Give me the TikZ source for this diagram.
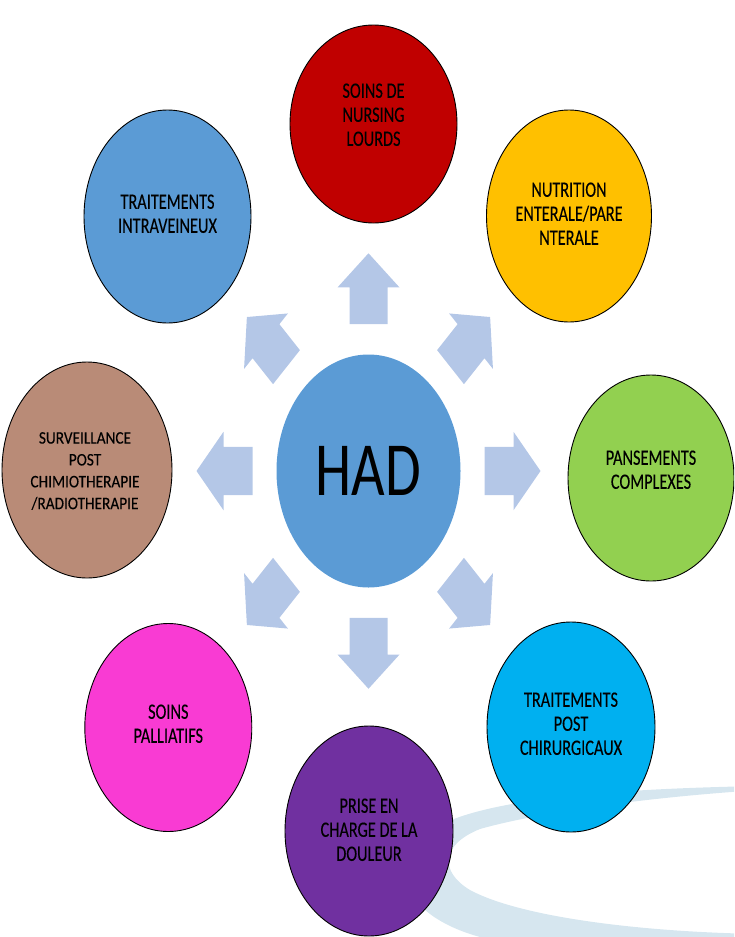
\documentclass[tikz,border=0pt]{standalone}
\usepackage{fontspec}
\setmainfont{Carlito}
\newfontfamily\lblfont{Carlito}[FakeBold=0.2]
\usetikzlibrary{shapes.geometric}
\definecolor{cred}{HTML}{C00000}
\definecolor{corange}{HTML}{FFC000}
\definecolor{cgreen}{HTML}{92D050}
\definecolor{ccyan}{HTML}{00B0F0}
\definecolor{cpurple}{HTML}{7030A0}
\definecolor{cmagenta}{HTML}{F93BD3}
\definecolor{cbrown}{HTML}{B98B77}
\definecolor{cblue}{HTML}{5B9BD5}
\definecolor{carrow}{HTML}{B4C7E7}
\definecolor{cswoosh}{HTML}{D6E6EF}
\newcommand\stxt[2][1.35]{\scalebox{1}[#1]{\begin{tabular}{@{}c@{}}#2\end{tabular}}}
\tikzset{
  bubble/.style={ellipse, draw=black, line width=0.9pt, inner sep=0pt, outer sep=0pt},
  lbl/.style={inner sep=0pt, text=black, font=\lblfont\fontsize{16.3}{17.8}\selectfont},
  smalllbl/.style={inner sep=0pt, text=black, font=\lblfont\fontsize{15.3}{19}\selectfont},
  blockarrow/.style={fill=carrow, draw=none}
}
\begin{document}
\begin{tikzpicture}[x=1pt,y=-1pt]
\useasboundingbox (0,0) rectangle (734,937);
\begin{scope}
\clip (0,0) rectangle (734,937);
% swoosh
\fill[cswoosh] (760,786) .. controls (600,789) and (490,800) .. (440,825)
   .. controls (380,860) and (400,915) .. (480,937)
   .. controls (520,948) and (600,955) .. (760,950) -- (760,934)
   .. controls (640,932) and (520,917) .. (470,890)
   .. controls (440,872) and (440,845) .. (480,829)
   .. controls (540,812) and (650,797) .. (760,790) -- cycle;
% centre
\node[bubble, draw=none, fill=cblue, minimum width=184pt, minimum height=233pt,
      font=\fontsize{58}{60}\selectfont] (had) at (368.5,471) {\scalebox{1}[1.32]{HAD}};
% arrows
\begin{scope}[shift={(had.center)}, yscale=1.266]
\foreach \a in {0,45,...,315}
  \fill[blockarrow, rotate=\a] (116,-19) -- (145,-19) -- (145,-31) -- (172,0)
        -- (145,31) -- (145,19) -- (116,19) -- cycle;
\end{scope}
% outer bubbles
\node[bubble, fill=cred,     minimum width=167pt, minimum height=198pt] (nurs) at (373.5,124) {};
\node[bubble, fill=corange,  minimum width=165pt, minimum height=212pt] (nutr) at (569,216) {};
\node[bubble, fill=cgreen,   minimum width=166pt, minimum height=206pt] (pans) at (651,478) {};
\node[bubble, fill=ccyan,    minimum width=168pt, minimum height=210pt] (chir) at (571,727) {};
\node[bubble, fill=cpurple,  minimum width=168pt, minimum height=210pt] (doul) at (369,831) {};
\node[bubble, fill=cmagenta, minimum width=167pt, minimum height=208pt] (pall) at (168.3,727.5) {};
\node[bubble, fill=cbrown,   minimum width=170pt, minimum height=216pt] (surv) at (87,470) {};
\node[bubble, fill=cblue,    minimum width=167pt, minimum height=213pt] (intr) at (167.5,216.5) {};
% texts
\node[lbl] (nurs-t) at (373.5,117) {\stxt{SOINS DE\\NURSING\\LOURDS}};
\node[lbl] (nutr-t) at (569,216) {\stxt{NUTRITION\\ENTERALE/PARE\\NTERALE}};
\node[lbl] (pans-t) at (651,472) {\stxt{PANSEMENTS\\COMPLEXES}};
\node[lbl] (chir-t) at (571,726) {\stxt{TRAITEMENTS\\POST\\CHIRURGICAUX}};
\node[lbl] (doul-t) at (369,832) {\stxt{PRISE EN\\CHARGE DE LA\\DOULEUR}};
\node[lbl] (pall-t) at (168.3,726) {\stxt{SOINS\\PALLIATIFS}};
\node[smalllbl] (surv-t) at (85,472) {\stxt[1.15]{SURVEILLANCE\\POST\\CHIMIOTHERAPIE\\/RADIOTHERAPIE}};
\node[lbl] (intr-t) at (167.5,216) {\stxt{TRAITEMENTS\\INTRAVEINEUX}};
\end{scope}
\end{tikzpicture}
\end{document}
